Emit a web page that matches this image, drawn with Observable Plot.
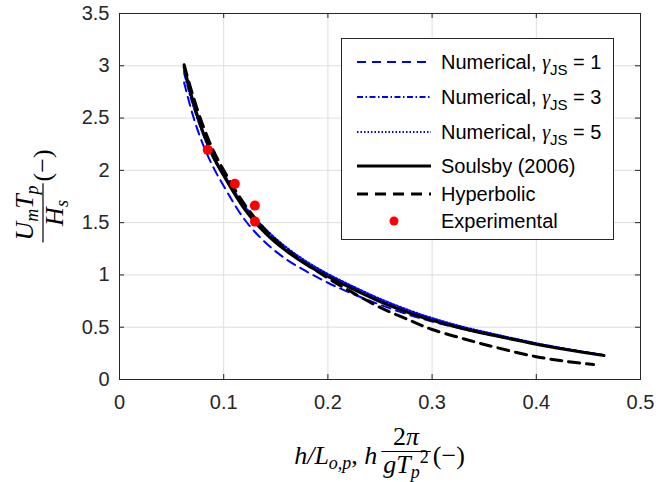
<!DOCTYPE html>
<html><head><meta charset="utf-8">
<script src="https://cdn.jsdelivr.net/npm/d3@7"></script>
<script src="https://cdn.jsdelivr.net/npm/@observablehq/plot@0.6"></script>
<style>body{margin:0;background:#fff;} svg{display:block;}</style>
</head><body><div id="chart"></div>
<script>
// ---- data ----
const xTicks = [0, 0.1, 0.2, 0.3, 0.4, 0.5];
const yTicks = [0, 0.5, 1, 1.5, 2, 2.5, 3, 3.5];

const curveX   = [0.062, 0.07, 0.08, 0.09, 0.1, 0.12, 0.14, 0.16, 0.18, 0.2, 0.22, 0.25, 0.28, 0.3, 0.33, 0.36, 0.4, 0.43, 0.465];
const soulsbyY = [2.99, 2.68, 2.37, 2.13, 1.95, 1.63, 1.40, 1.23, 1.095, 0.985, 0.885, 0.745, 0.63, 0.565, 0.485, 0.42, 0.338, 0.285, 0.229];
const num1Y    = [2.84, 2.54, 2.25, 2.03, 1.85, 1.53, 1.31, 1.15, 1.03, 0.925, 0.835, 0.715, 0.612, 0.555, 0.482, 0.42, 0.34, 0.288, 0.232];
const num3Y    = [2.93, 2.64, 2.35, 2.12, 1.95, 1.64, 1.42, 1.25, 1.11, 1.0, 0.90, 0.762, 0.645, 0.578, 0.495, 0.428, 0.343, 0.288, 0.231];
const num5Y    = [2.95, 2.66, 2.37, 2.14, 1.97, 1.66, 1.44, 1.265, 1.125, 1.01, 0.91, 0.772, 0.655, 0.588, 0.503, 0.434, 0.347, 0.291, 0.233];

const hyperX   = [0.062, 0.07, 0.08, 0.09, 0.1, 0.12, 0.14, 0.16, 0.18, 0.2, 0.22, 0.25, 0.28, 0.3, 0.33, 0.36, 0.4, 0.43, 0.455];
const hyperY   = [3.01, 2.73, 2.43, 2.19, 2.0, 1.675, 1.43, 1.245, 1.10, 0.97, 0.852, 0.69, 0.56, 0.478, 0.39, 0.31, 0.218, 0.172, 0.143];

const expX = [0.0847, 0.1107, 0.1299, 0.1300];
const expY = [2.196, 1.871, 1.663, 1.510];

const legendNames = ["Numerical, γJS = 1", "Numerical, γJS = 3", "Numerical, γJS = 5", "Soulsby (2006)", "Hyperbolic", "Experimental"];

// ---- tables ----
const rows = (xs, ys) => xs.map((x, i) => ({x, y: ys[i]}));
const soulsby = rows(curveX, soulsbyY);
const num1 = rows(curveX, num1Y);
const num3 = rows(curveX, num3Y);
const num5 = rows(curveX, num5Y);
const hyper = rows(hyperX, hyperY);
const exper = rows(expX, expY);

const INK = "#262626";
const BLUE = "#0000ff";
const styles = [
  {stroke: BLUE, strokeWidth: 2, strokeDasharray: "9,6"},
  {stroke: BLUE, strokeWidth: 2, strokeDasharray: "6,2.5,1.5,2.5"},
  {stroke: BLUE, strokeWidth: 2, strokeDasharray: "1.5,2"},
  {stroke: "#000", strokeWidth: 3},
  {stroke: "#000", strokeWidth: 3, strokeDasharray: "11,7"}
];

const W = 670, H = 482, mT = 13, mB = 103, mL = 119, mR = 30;
const fw = W - mL - mR, fh = H - mT - mB;
const fmt = d => String(d);

const chart = Plot.plot({
  width: W, height: H,
  marginTop: mT, marginBottom: mB, marginLeft: mL, marginRight: mR,
  style: {fontFamily: "'Liberation Sans', Arial, sans-serif", fontSize: "20px", color: INK, background: "#fff"},
  x: {domain: [0, 0.5]},
  y: {domain: [0, 3.5]},
  marks: [
    Plot.gridX(xTicks, {stroke: "#dedede", strokeOpacity: 1, strokeWidth: 1}),
    Plot.gridY(yTicks, {stroke: "#dedede", strokeOpacity: 1, strokeWidth: 1}),
    Plot.line(num1, {x: "x", y: "y", curve: "catmull-rom", ...styles[0]}),
    Plot.line(num3, {x: "x", y: "y", curve: "catmull-rom", ...styles[1]}),
    Plot.line(num5, {x: "x", y: "y", curve: "catmull-rom", ...styles[2]}),
    Plot.line(soulsby, {x: "x", y: "y", curve: "catmull-rom", ...styles[3]}),
    Plot.line(hyper, {x: "x", y: "y", curve: "catmull-rom", ...styles[4]}),
    Plot.dot(exper, {x: "x", y: "y", r: 5, fill: "#ff0000", stroke: "none"}),
    Plot.frame({stroke: INK, strokeWidth: 1}),
    Plot.ruleX(xTicks, {stroke: INK, insetTop: fh - 5}),
    Plot.ruleX(xTicks, {stroke: INK, insetBottom: fh - 5}),
    Plot.ruleY(yTicks, {stroke: INK, insetRight: fw - 5}),
    Plot.ruleY(yTicks, {stroke: INK, insetLeft: fw - 5}),
    Plot.axisX({ticks: xTicks, tickSize: 0, tickPadding: 15, tickFormat: fmt, label: null, fill: INK}),
    Plot.axisY({ticks: yTicks, tickSize: 0, tickPadding: 10, tickFormat: fmt, label: null, fill: INK})
  ]
});
document.getElementById("chart").appendChild(chart);

// ---- legend and math axis labels ----
const svg = d3.select(chart);
const SERIF = "'Liberation Serif', 'Times New Roman', serif";

// Legend
const lg = svg.append("g").attr("text-anchor", "start");
lg.append("rect").attr("x", 341.5).attr("y", 38.5).attr("width", 272).attr("height", 201)
  .attr("fill", "#fff").attr("stroke", INK).attr("stroke-width", 1);
const rowY = [62, 97, 132, 166, 194, 221];
legendNames.forEach((name, i) => {
  const y = rowY[i];
  if (i < 5) {
    const s = styles[i];
    lg.append("line").attr("x1", 357).attr("x2", 431).attr("y1", y).attr("y2", y)
      .attr("stroke", s.stroke).attr("stroke-width", s.strokeWidth)
      .attr("stroke-dasharray", s.strokeDasharray || null);
  } else {
    lg.append("circle").attr("cx", 394).attr("cy", y).attr("r", 4.5).attr("fill", "#ff0000");
  }
  const t = lg.append("text").attr("x", 441).attr("y", y + 7).attr("text-anchor", "start")
    .attr("font-family", "'Liberation Sans', Arial, sans-serif").attr("font-size", 20).attr("fill", "#000");
  const m = name.match(/^(.*, )γJS( = .*)$/);
  if (m) {
    t.append("tspan").text(m[1]);
    t.append("tspan").attr("font-family", SERIF).attr("font-style", "italic").text("γ");
    t.append("tspan").attr("font-size", 15).attr("dy", 6).text("JS");
    t.append("tspan").attr("dy", -6).text(m[2]);
  } else {
    t.text(name);
  }
});

// helper to measure
const wOf = sel => sel.node().getComputedTextLength();

// X label
const FS = 26, SFS = 18;
const xl = svg.append("g").attr("font-family", SERIF).attr("font-size", FS).attr("fill", "#000").attr("text-anchor", "start");
const xBase = 464;
const tA = xl.append("text").attr("y", xBase).attr("font-style", "italic").attr("text-anchor", "start");
tA.append("tspan").text("h/L");
tA.append("tspan").attr("font-size", SFS).attr("dy", 5).text("o,p");
tA.append("tspan").attr("dy", -5).attr("font-style", "normal").text(", ");
tA.append("tspan").text("h");
const wA = wOf(tA);
const tNum = xl.append("text").attr("y", 445).attr("text-anchor", "middle");
tNum.append("tspan").text("2");
tNum.append("tspan").attr("font-style", "italic").text("π");
const tDen = xl.append("text").attr("y", 473).attr("text-anchor", "middle").attr("font-style", "italic");
tDen.append("tspan").text("gT");
tDen.append("tspan").attr("font-size", SFS).attr("dy", 5).text("p");
tDen.append("tspan").attr("font-size", SFS).attr("dy", -15).attr("font-style", "normal").text("2");
const wF = Math.max(wOf(tNum), wOf(tDen)) + 4;
const tP = xl.append("text").attr("y", xBase).attr("text-anchor", "start").text("(−)");
const wP = wOf(tP);
const gap = 4;
const totalX = wA + gap + wF + 2 + wP;
let x0 = (mL + W - mR) / 2 - totalX / 2;
tA.attr("x", x0);
const fx = x0 + wA + gap;
tNum.attr("x", fx + wF / 2);
tDen.attr("x", fx + wF / 2);
xl.append("line").attr("x1", fx).attr("x2", fx + wF).attr("y1", 451.5).attr("y2", 451.5)
  .attr("stroke", "#000").attr("stroke-width", 1.2);
tP.attr("x", fx + wF + 2);

// Y label (rotated)
const cy = (mT + H - mB) / 2;
const yl = svg.append("g").attr("transform", `translate(43,${cy}) rotate(-90)`)
  .attr("font-family", SERIF).attr("font-size", FS).attr("fill", "#000");
const yN = yl.append("text").attr("y", -10).attr("text-anchor", "middle").attr("font-style", "italic");
yN.append("tspan").text("U");
yN.append("tspan").attr("font-size", SFS).attr("dy", 5).text("m");
yN.append("tspan").attr("dy", -5).text("T");
yN.append("tspan").attr("font-size", SFS).attr("dy", 5).text("p");
const yD = yl.append("text").attr("y", 20).attr("text-anchor", "middle").attr("font-style", "italic");
yD.append("tspan").text("H");
yD.append("tspan").attr("font-size", SFS).attr("dy", 5).text("s");
const wYF = Math.max(wOf(yN), wOf(yD)) + 4;
const yP = yl.append("text").attr("y", 8).attr("text-anchor", "start").text("(−)");
const wYP = wOf(yP);
const totalY = wYF + 2 + wYP;
const y0 = -totalY / 2;
yN.attr("x", y0 + wYF / 2);
yD.attr("x", y0 + wYF / 2);
yl.append("line").attr("x1", y0).attr("x2", y0 + wYF).attr("y1", 0).attr("y2", 0)
  .attr("stroke", "#000").attr("stroke-width", 1.2);
yP.attr("x", y0 + wYF + 2);
</script>
</body></html>
